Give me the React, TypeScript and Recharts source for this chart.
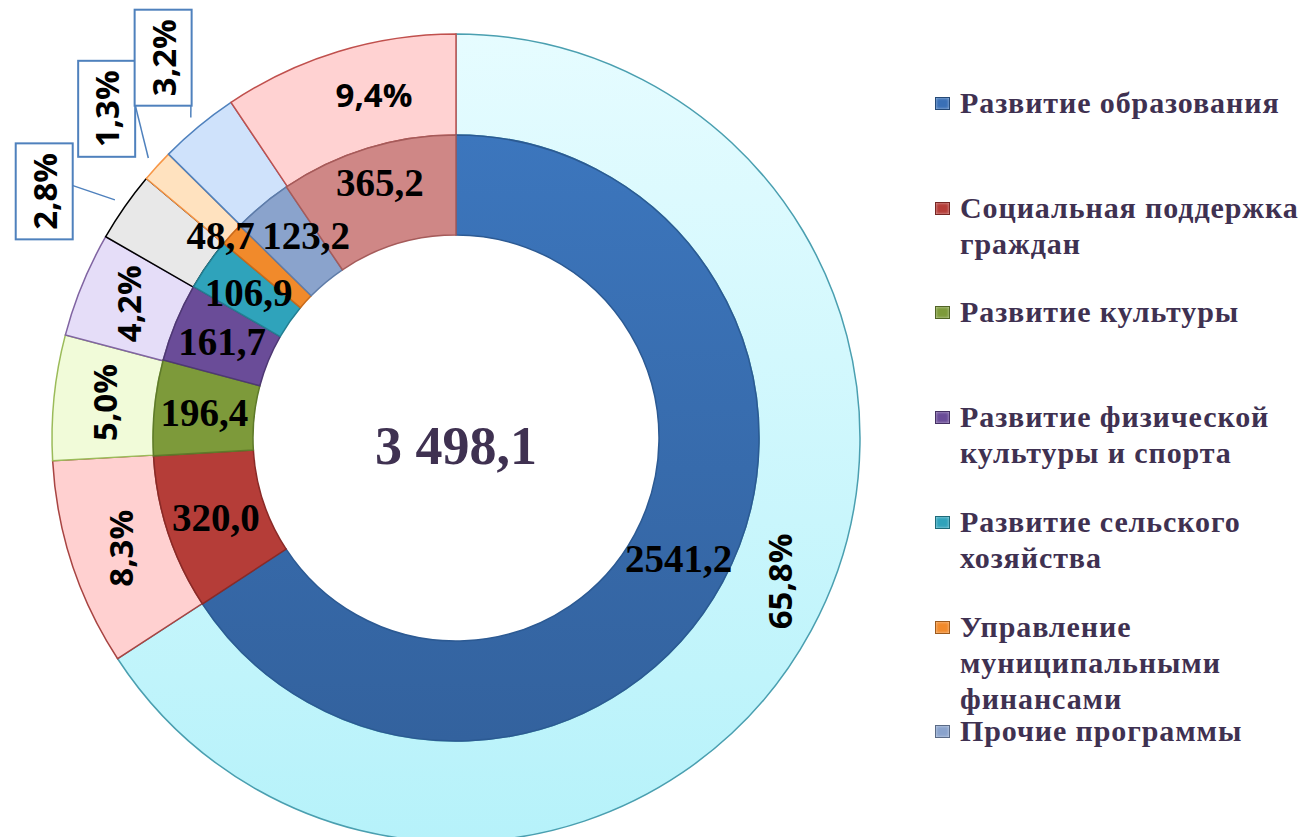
import React from 'react';
import { PieChart, Pie, Cell, Legend } from 'recharts';

// программы (последний сектор без подписи в легенде)
const programs = [
  'Развитие образования',
  'Социальная поддержка граждан',
  'Развитие культуры',
  'Развитие физической культуры и спорта',
  'Развитие сельского хозяйства',
  'Управление муниципальными финансами',
  'Прочие программы',
  '',
];
const amounts = [2541.2, 320.0, 196.4, 161.7, 106.9, 48.7, 123.2, 365.2];
const shares = [65.8, 8.3, 5.0, 4.2, 2.8, 1.3, 3.2, 9.4];

const INNER_FILL = ['url(#gBlue)', '#b53d38', '#7d9a3a', '#6a4c98', '#2fa3bb', '#f18a2b', '#8aa3cc', '#cf8786'];
const INNER_STROKE = ['#2c5a93', '#8a2a27', '#5e7a2a', '#4e3873', '#237f92', '#c86a1a', '#5f7ca8', '#a55b5a'];
const OUTER_FILL = ['url(#gCyan)', '#ffd0d0', '#f1fbd9', '#e5ddf8', '#e8e8e8', '#ffe2bf', '#cfe2fb', '#ffd2d2'];
const OUTER_STROKE = ['#4a9fb0', '#a84442', '#9bbb59', '#8064a2', '#000000', '#f79646', '#4f81bd', '#c0504d'];
const LEGEND_COLOR = ['#3a70b6', '#b53d38', '#7d9a3a', '#6a4c98', '#2fa3bb', '#f18a2b', '#8aa3cc'];

const innerData = programs.map((name, i) => ({ name, value: amounts[i] }));
const outerData = programs.map((name, i) => ({ name, value: shares[i] }));

const CX = 456;
const CY = 438;
const RAD = Math.PI / 180;
const SERIF = '"Liberation Serif", "Times New Roman", serif';
const SANS = '"Open Sans", sans-serif';
const INK = '#3f3151';

const fmtNum = (v: number) => v.toFixed(1).replace('.', ',');
const fmtTotal = (v: number) => {
  const [int, dec] = v.toFixed(1).split('.');
  return int.replace(/\B(?=(\d{3})+(?!\d))/g, ' ') + ',' + dec;
};
const total = amounts.reduce((s, v, i) => (programs[i] ? s + v : s), 0);

// небольшие сдвиги подписей, как в исходной раскладке
const innerShift: Record<number, [number, number]> = { 5: [-48, -32], 6: [12, -8], 7: [-2, -14] };
const outerNudge: Record<number, number> = { 0: 4.5, 4: 4, 5: -1, 6: -2, 7: -3.5 };

const renderAmount = (p: any) => {
  const { cx, cy, midAngle, innerRadius, outerRadius, index } = p;
  const r = (innerRadius + outerRadius) / 2;
  const [dx, dy] = innerShift[index] || [0, 0];
  const x = cx + r * Math.cos(midAngle * RAD) + dx;
  const y = cy - r * Math.sin(midAngle * RAD) + dy;
  return (
    <text x={x} y={y} textAnchor="middle" dominantBaseline="central"
      style={{ fontFamily: SERIF, fontWeight: 700, fontSize: 39, fill: '#000' }}>
      {fmtNum(amounts[index])}
    </text>
  );
};

const renderShare = (p: any) => {
  const { cx, cy, midAngle, innerRadius, outerRadius, index } = p;
  const share = shares[index];
  const text = fmtNum(share) + '%';
  const style = { fontFamily: SANS, fontWeight: 700, fontSize: 33, fill: '#000' };
  const a = (midAngle + (outerNudge[index] || 0)) * RAD;
  if (share < 3.5) {
    const bx = cx + 480 * Math.cos(a);
    const by = cy - 480 * Math.sin(a);
    const sx = cx + (outerRadius + 12) * Math.cos(midAngle * RAD);
    const sy = cy - (outerRadius + 12) * Math.sin(midAngle * RAD);
    return (
      <g>
        <line x1={sx} y1={sy} x2={bx + 28} y2={by - 6} stroke="#4f81bd" strokeWidth={1.5} />
        <rect x={bx - 28.5} y={by - 48} width={57} height={96} fill="#fff" stroke="#4f81bd" strokeWidth={2} />
        <text transform={`translate(${bx},${by}) rotate(-90)`} textAnchor="middle" dominantBaseline="central" style={style}>
          {text}
        </text>
      </g>
    );
  }
  const r = (innerRadius + outerRadius) / 2;
  const x = cx + r * Math.cos(a);
  const y = cy - r * Math.sin(a);
  const flat = Math.abs(((midAngle % 360) + 360) % 360 - 90) < 30;
  return (
    <text transform={`translate(${x},${y})${flat ? '' : ' rotate(-90)'}`} textAnchor="middle"
      dominantBaseline="central" style={style}>
      {text}
    </text>
  );
};

const renderLegend = () => (
  <div style={{ position: 'relative', width: 371, height: 837 }}>
    {programs.filter(Boolean).map((name, i) => (
      <div key={i} style={{ position: 'absolute', left: 0, top: 85 + i * 104.7, width: 371, display: 'flex' }}>
        <span style={{
          flex: '0 0 auto', width: 13, height: 11, marginLeft: 5, marginTop: 12, marginRight: 10,
          background: LEGEND_COLOR[i], border: '1px solid rgba(0,0,0,0.35)', boxShadow: 'inset 0 0 3px rgba(255,255,255,0.6)',
        }} />
        <span style={{
          fontFamily: SERIF, fontWeight: 700, fontSize: 30, lineHeight: '36px', color: INK,
          letterSpacing: 0.9, width: 350,
        }}>
          {name}
        </span>
      </div>
    ))}
  </div>
);

export default function App() {
  return (
    <div style={{ position: 'absolute', left: 0, top: 0, width: 1301, height: 837, overflow: 'hidden', background: '#fff' }}>
      <PieChart width={1301} height={837} margin={{ top: 0, right: 0, bottom: 0, left: 0 }}>
        <defs>
          <linearGradient id="gCyan" x1="0" y1="0" x2="0" y2="1">
            <stop offset="0%" stopColor="#e6fcff" />
            <stop offset="100%" stopColor="#b6f2fa" />
          </linearGradient>
          <linearGradient id="gBlue" x1="0" y1="0" x2="0" y2="1">
            <stop offset="0%" stopColor="#3c76bd" />
            <stop offset="100%" stopColor="#33629e" />
          </linearGradient>
        </defs>
        <Pie
          data={outerData}
          dataKey="value"
          nameKey="name"
          cx={CX}
          cy={CY}
          innerRadius={303}
          outerRadius={404}
          startAngle={90}
          endAngle={-270}
          legendType="none"
          label={renderShare}
          labelLine={false}
          isAnimationActive={false}
        >
          {outerData.map((_, i) => (
            <Cell key={i} fill={OUTER_FILL[i]} stroke={OUTER_STROKE[i]} strokeWidth={1.5} />
          ))}
        </Pie>
        <Pie
          data={innerData}
          dataKey="value"
          nameKey="name"
          cx={CX}
          cy={CY}
          innerRadius={203}
          outerRadius={303}
          startAngle={90}
          endAngle={-270}
          label={renderAmount}
          labelLine={false}
          isAnimationActive={false}
        >
          {innerData.map((_, i) => (
            <Cell key={i} fill={INNER_FILL[i]} stroke={INNER_STROKE[i]} strokeWidth={1.5} />
          ))}
        </Pie>
        <text x={CX} y={CY + 8} textAnchor="middle" dominantBaseline="central"
          style={{ fontFamily: SERIF, fontWeight: 700, fontSize: 54, fill: INK }}>
          {fmtTotal(total)}
        </text>
        <Legend
          layout="vertical"
          align="right"
          verticalAlign="top"
          content={renderLegend}
          wrapperStyle={{ position: 'absolute', left: 930, top: 0, right: 'auto', bottom: 'auto', width: 371, height: 837 }}
        />
      </PieChart>
    </div>
  );
}
